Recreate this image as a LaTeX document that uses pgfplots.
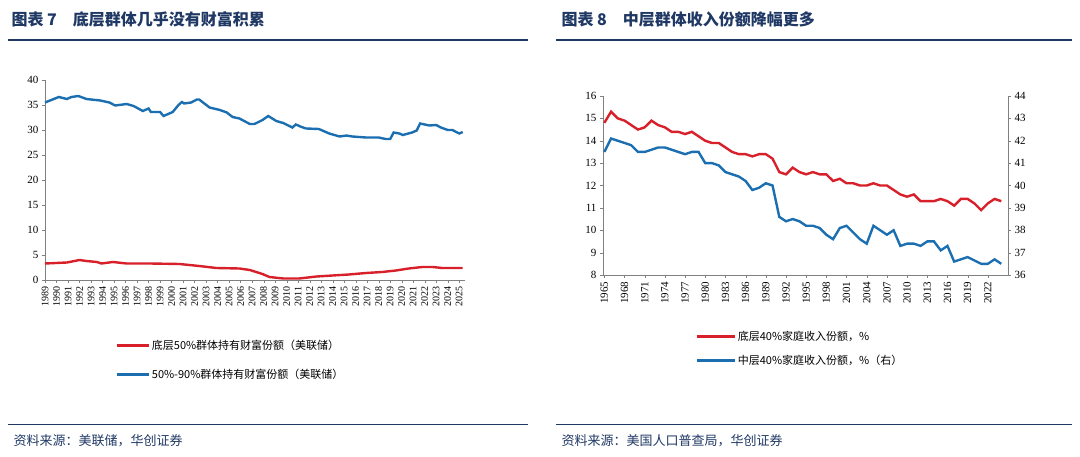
\documentclass[border=0pt]{standalone}
\usepackage{pgfplots}
\pgfplotsset{compat=1.18}
\usepackage{fontspec}
\setmainfont{Liberation Serif}
\newfontfamily\cjk{Noto Sans CJK SC}
\definecolor{hdr}{HTML}{1F3864}
\definecolor{rd}{HTML}{D7202A}
\definecolor{bl}{HTML}{1B6FB1}
\begin{document}
\begin{tikzpicture}[x=1pt,y=1pt]
\path (0,0) rectangle (1080,456);
% headers
\node[anchor=west,text=hdr,font=\cjk\bfseries\fontsize{16}{18}\selectfont] at (8,437) {图表 7\quad 底层群体几乎没有财富积累};
\node[anchor=west,text=hdr,font=\cjk\bfseries\fontsize{16}{18}\selectfont] at (558,437) {图表 8\quad 中层群体收入份额降幅更多};
\draw[hdr,line width=1.2pt] (8,416) -- (528,416);
\draw[hdr,line width=1.2pt] (556,416) -- (1072,416);
\draw[hdr,line width=1pt] (8,32) -- (528,32);
\draw[hdr,line width=1pt] (556,32) -- (1072,32);
\node[anchor=west,text=hdr,font=\cjk\itshape\fontsize{13}{15}\selectfont] at (10,15) {资料来源：美联储，华创证券};
\node[anchor=west,text=hdr,font=\cjk\itshape\fontsize{13}{15}\selectfont] at (558,15) {资料来源：美国人口普查局，华创证券};

\begin{axis}[at={(45pt,176pt)},anchor=south west,scale only axis,width=420pt,height=200pt,
 xmin=1989,xmax=2025.5,ymin=0,ymax=40,ytick={0,5,...,40},
 xtick={1989,...,2025},xticklabel style={rotate=90,anchor=east,font=\fontsize{10}{10}\selectfont,/pgf/number format/1000 sep={}},
 yticklabel style={font=\fontsize{11}{11}\selectfont},
 /pgf/number format/assume math mode=true,
 axis y line*=left,axis x line*=bottom,tick align=outside,major tick length=3pt,
 axis line style={gray},tick style={gray},
 legend style={draw=none,at={(0.16,-0.28)},anchor=north west,font=\cjk\fontsize{11}{13}\selectfont,row sep=14pt},
 legend cell align=left,legend image post style={line width=2.5pt},
 legend image code/.code={\draw[#1] (0pt,0pt) -- (32pt,0pt);}]
\addplot[rd,line width=2.4pt] coordinates {(1989,3.3)(1990.9,3.5)(1992.0,4.0)(1992.6,3.8)(1993.5,3.6)(1993.9,3.3)(1994.9,3.6)(1996.1,3.3)(1998.1,3.3)(2000.7,3.2)(2002.4,2.8)(2003.9,2.4)(2005.9,2.3)(2006.8,2.0)(2007.9,1.2)(2008.5,0.6)(2009.7,0.3)(2011.1,0.3)(2012.6,0.7)(2014.0,0.9)(2015.4,1.1)(2016.9,1.4)(2018.3,1.6)(2019.5,1.9)(2020.6,2.3)(2021.8,2.6)(2022.7,2.6)(2023.5,2.4)(2025.3,2.4)};
\addlegendentry{底层50\%群体持有财富份额（美联储）}
\addplot[bl,line width=2.4pt] coordinates {(1989.0,35.5)(1990.2,36.6)(1990.9,36.2)(1991.3,36.6)(1991.9,36.8)(1992.6,36.2)(1993.8,35.9)(1994.6,35.5)(1995.1,34.9)(1996.1,35.2)(1996.7,34.8)(1997.5,33.8)(1998.0,34.3)(1998.2,33.6)(1999.0,33.6)(1999.3,32.8)(2000.1,33.6)(2000.6,35.0)(2000.9,35.6)(2001.1,35.3)(2001.7,35.5)(2002.2,36.1)(2002.4,36.1)(2003.3,34.5)(2004.2,34.0)(2004.8,33.5)(2005.3,32.6)(2005.9,32.3)(2006.8,31.2)(2007.2,31.2)(2007.9,32.0)(2008.4,32.8)(2009.1,31.8)(2009.7,31.4)(2010.5,30.5)(2010.8,31.1)(2011.3,30.6)(2011.7,30.3)(2012.8,30.2)(2013.7,29.3)(2014.6,28.7)(2015.2,28.9)(2015.7,28.7)(2016.9,28.5)(2018.0,28.5)(2018.6,28.2)(2019.0,28.2)(2019.3,29.5)(2019.8,29.3)(2020.1,29.0)(2020.9,29.5)(2021.3,29.9)(2021.6,31.3)(2022.4,30.9)(2023.0,31.0)(2023.4,30.5)(2024.0,30.0)(2024.4,30.0)(2025.0,29.3)(2025.3,29.6)};
\addlegendentry{50\%-90\%群体持有财富份额（美联储）}
\end{axis}

\begin{axis}[at={(603pt,181pt)},anchor=south west,scale only axis,width=405pt,height=179pt,
 xmin=1964.8,xmax=2025,ymin=8,ymax=16,ytick={8,...,16},
 xtick={1965,1968,...,2022},xticklabel style={rotate=90,anchor=east,font=\fontsize{11}{11}\selectfont,/pgf/number format/1000 sep={}},
 yticklabel style={font=\fontsize{11}{11}\selectfont},
 /pgf/number format/assume math mode=true,
 axis y line*=left,axis x line*=bottom,tick align=outside,major tick length=3pt,
 axis line style={gray},tick style={gray},
 legend style={draw=none,at={(0.22,-0.29)},anchor=north west,font=\cjk\fontsize{11}{13}\selectfont,row sep=9pt},
 legend cell align=left,legend image post style={line width=2.5pt},
 legend image code/.code={\draw[#1] (0pt,0pt) -- (38pt,0pt);}]
\addplot[rd,line width=2.4pt] coordinates {(1965,14.8)(1966,15.3)(1967,15.0)(1968,14.9)(1969,14.7)(1970,14.5)(1971,14.6)(1972,14.9)(1973,14.7)(1974,14.6)(1975,14.4)(1976,14.4)(1977,14.3)(1978,14.4)(1979,14.2)(1980,14.0)(1981,13.9)(1982,13.9)(1983,13.7)(1984,13.5)(1985,13.4)(1986,13.4)(1987,13.3)(1988,13.4)(1989,13.4)(1990,13.2)(1991,12.6)(1992,12.5)(1993,12.8)(1994,12.6)(1995,12.5)(1996,12.6)(1997,12.5)(1998,12.5)(1999,12.2)(2000,12.3)(2001,12.1)(2002,12.1)(2003,12.0)(2004,12.0)(2005,12.1)(2006,12.0)(2007,12.0)(2008,11.8)(2009,11.6)(2010,11.5)(2011,11.6)(2012,11.3)(2013,11.3)(2014,11.3)(2015,11.4)(2016,11.3)(2017,11.1)(2018,11.4)(2019,11.4)(2020,11.2)(2021,10.9)(2022,11.2)(2023,11.4)(2024,11.3)};
\addlegendentry{底层40\%家庭收入份额，\%}
\addlegendimage{bl,line width=2.4pt}
\addlegendentry{中层40\%家庭收入份额，\%（右）}
\end{axis}
\begin{axis}[at={(603pt,181pt)},anchor=south west,scale only axis,width=405pt,height=179pt,
 xmin=1964.8,xmax=2025,ymin=36,ymax=44,ytick={36,...,44},
 axis x line=none,axis y line*=right,tick align=outside,major tick length=3pt,
 axis line style={gray},tick style={gray},
 yticklabel style={font=\fontsize{11}{11}\selectfont},
 /pgf/number format/assume math mode=true]
\addplot[bl,line width=2.4pt] coordinates {(1965,41.5)(1966,42.1)(1967,42.0)(1968,41.9)(1969,41.8)(1970,41.5)(1971,41.5)(1972,41.6)(1973,41.7)(1974,41.7)(1975,41.6)(1976,41.5)(1977,41.4)(1978,41.5)(1979,41.5)(1980,41.0)(1981,41.0)(1982,40.9)(1983,40.6)(1984,40.5)(1985,40.4)(1986,40.2)(1987,39.8)(1988,39.9)(1989,40.1)(1990,40.0)(1991,38.6)(1992,38.4)(1993,38.5)(1994,38.4)(1995,38.2)(1996,38.2)(1997,38.1)(1998,37.8)(1999,37.6)(2000,38.1)(2001,38.2)(2002,37.9)(2003,37.6)(2004,37.4)(2005,38.2)(2006,38.0)(2007,37.8)(2008,38.0)(2009,37.3)(2010,37.4)(2011,37.4)(2012,37.3)(2013,37.5)(2014,37.5)(2015,37.1)(2016,37.3)(2017,36.6)(2018,36.7)(2019,36.8)(2020,36.65)(2021,36.5)(2022,36.5)(2023,36.7)(2024,36.5)};
\end{axis}
\end{tikzpicture}
\end{document}
